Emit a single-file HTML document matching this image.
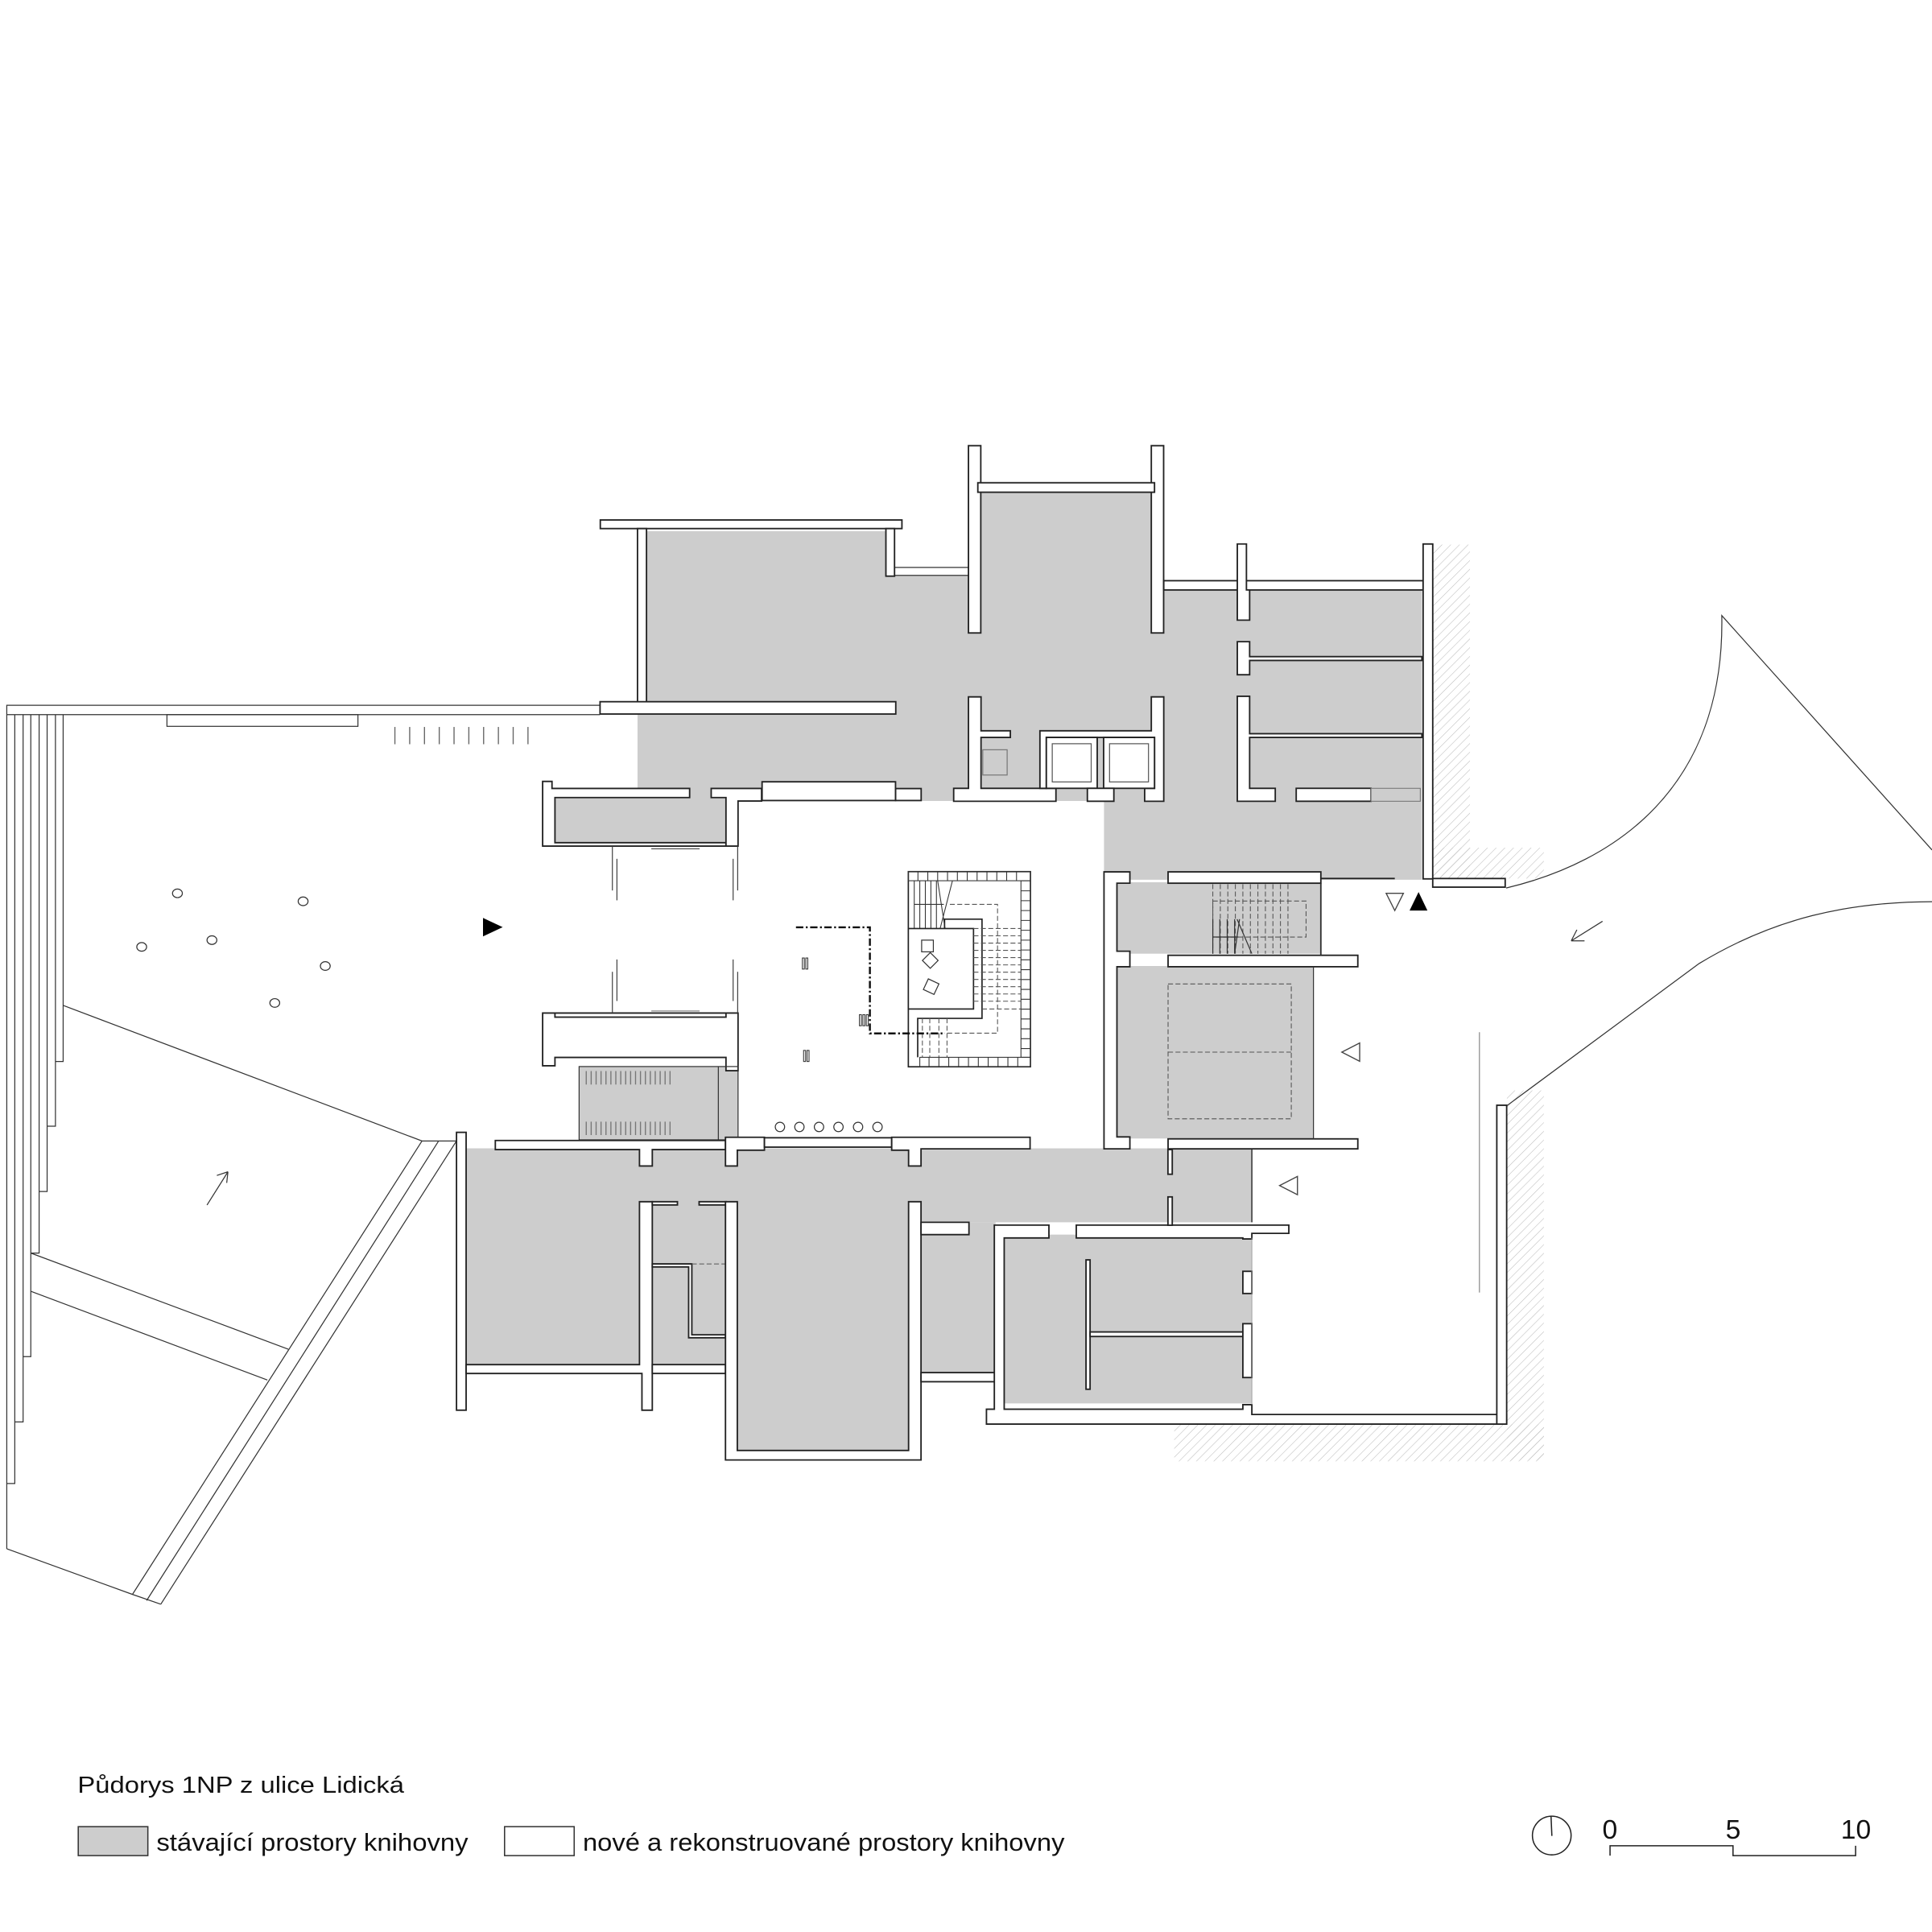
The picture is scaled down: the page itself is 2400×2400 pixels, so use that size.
<!DOCTYPE html>
<html><head><meta charset="utf-8"><style>
html,body{margin:0;padding:0;background:#fff}
svg{display:block}
.w{fill:#fff;stroke:#222;stroke-width:1.2}
.g{fill:#cdcdcd;stroke:none}
.l{fill:none;stroke:#333;stroke-width:0.8}
.d{fill:none;stroke:#555;stroke-width:0.7;stroke-dasharray:4 2}
text{font-family:"Liberation Sans",Arial,sans-serif;fill:#111}
</style></head><body>
<svg width="2400" height="2400" viewBox="0 0 1568 1568" xmlns="http://www.w3.org/2000/svg">
<defs>
<pattern id="h" width="5" height="5" patternUnits="userSpaceOnUse" patternTransform="rotate(45)">
<line x1="0" y1="0" x2="0" y2="5" stroke="#bbb" stroke-width="0.7"/></pattern>
</defs>
<rect x="1163" y="442" width="30" height="272" fill="url(#h)"/>
<rect x="1163" y="688" width="90" height="25" fill="url(#h)"/>
<rect x="1223" y="885" width="30" height="300" fill="url(#h)"/>
<rect x="953" y="1156" width="300" height="30" fill="url(#h)"/>

<line class="l" x1="5.5" y1="572.4" x2="487" y2="572.4"/>
<line class="l" x1="5.5" y1="580" x2="487" y2="580"/>
<rect class="l" x="135.5" y="580" width="155" height="9.5"/>
<g stroke="#666" stroke-width="0.9">
<line x1="320.5" y1="590" x2="320.5" y2="604"/><line x1="332.5" y1="590" x2="332.5" y2="604"/><line x1="344.5" y1="590" x2="344.5" y2="604"/><line x1="356.5" y1="590" x2="356.5" y2="604"/><line x1="368.5" y1="590" x2="368.5" y2="604"/><line x1="380.5" y1="590" x2="380.5" y2="604"/><line x1="392.5" y1="590" x2="392.5" y2="604"/><line x1="404.5" y1="590" x2="404.5" y2="604"/><line x1="416.5" y1="590" x2="416.5" y2="604"/><line x1="428.5" y1="590" x2="428.5" y2="604"/>
</g>
<path class="l" d="M5.5,572 V1257 M12,580 V1204 H5.5 M18.75,580 V1154 H12 M25,580 V1101 H18.75 M31.75,580 V1017 H25 M38.25,580 V967 H31.75 M45,580 V914 H38.25 M51.25,580 V861.5 H45"/>
<path class="l" d="M51.25,816 L342.5,926 H370.5 M25,1017 L234,1095 M25,1048 L217,1120 M5.5,1257 L107.5,1294 L130.5,1302 M342.5,926 L107.5,1294 M356,926 L119,1299 M370.5,926 L130.5,1302"/>
<path class="l" d="M168,978 L185,951 M185,951 L176,954 M185,951 L184,960"/>
<g class="l"><ellipse cx="144" cy="725" rx="4" ry="3.5"/><ellipse cx="246" cy="731.5" rx="4" ry="3.5"/><ellipse cx="115" cy="768.5" rx="4" ry="3.5"/><ellipse cx="172" cy="763" rx="4" ry="3.5"/><ellipse cx="264" cy="784" rx="4" ry="3.5"/><ellipse cx="223" cy="814" rx="4" ry="3.5"/></g>

<path class="l" d="M1222.4,720.7 C1310,700 1400,640 1397.4,499.6 L1568,689.8"/>
<path class="l" d="M1222.4,897.8 L1379,782 C1440,745 1500,732 1568,731.8"/>
<path class="l" d="M1300.6,747.7 L1275.2,763.6 M1275.2,763.6 L1286,763.6 M1275.2,763.6 L1279.8,754.6"/>
<line x1="1200.7" y1="837.7" x2="1200.7" y2="1049" stroke="#888" stroke-width="0.8"/>

<rect class="g" x="525" y="431" width="194" height="139"/>
<rect class="g" x="517.4" y="579" width="270" height="71"/>
<rect class="g" x="719" y="467" width="226" height="183"/>
<rect class="g" x="795" y="399" width="140" height="251"/>
<rect class="g" x="934" y="478" width="220" height="172"/>
<rect class="g" x="896" y="649" width="258" height="65"/>
<rect class="g" x="450.4" y="647" width="139" height="37"/>
<rect class="g" x="450.4" y="825.5" width="139" height="33"/>
<rect class="g" x="470" y="865.6" width="129" height="59.5"/>
<rect class="g" x="906" y="716" width="166" height="58"/>
<rect class="g" x="906" y="784" width="160" height="140"/>
<rect class="g" x="378" y="932" width="638" height="60"/>
<rect class="g" x="378" y="932" width="143" height="176"/>
<rect class="g" x="529" y="975" width="60" height="133"/>
<rect class="g" x="598" y="933" width="140" height="245"/>
<rect class="g" x="747" y="992" width="61" height="122"/>
<rect class="g" x="815" y="1002" width="201" height="137"/>

<path class="l" d="M725.7,460.5 H787 M725.7,467 H787"/>

<rect class="w" x="487.2" y="422" width="244.8" height="7"/>
<rect class="w" x="719" y="429" width="7" height="38.6"/>
<rect class="w" x="517.4" y="429" width="7.3" height="141"/>
<rect class="w" x="487" y="569.5" width="240" height="10"/>
<rect class="w" x="786" y="361.7" width="10" height="152"/>
<rect class="w" x="934.4" y="361.7" width="10" height="152"/>
<rect class="w" x="793.6" y="391.8" width="143.4" height="7.7"/>
<path class="w" d="M786,565.6 H796.2 V593.1 H820 V598.5 H796.2 V639.8 H857 V650.3 H774 V639.8 H786 Z"/>
<path class="w" d="M844,593.1 H934.4 V565.6 H944.5 V650.3 H929 V639.8 H937 V598.5 H849.2 V639.8 H844 Z"/>
<rect class="w" x="849.2" y="598.5" width="41.3" height="41.3"/>
<rect class="w" x="895.7" y="598.5" width="41.3" height="41.3"/>
<rect x="854" y="603.6" width="31.6" height="31" fill="none" stroke="#555" stroke-width="0.8"/>
<rect x="900.5" y="603.6" width="31.6" height="31" fill="none" stroke="#555" stroke-width="0.8"/>
<rect x="797.6" y="608.5" width="19.8" height="20.5" fill="none" stroke="#777" stroke-width="0.8"/>
<rect class="w" x="882.5" y="639.8" width="21.5" height="10.5"/>
<rect class="w" x="726.8" y="640" width="20.8" height="9.7"/>
<rect class="w" x="618.5" y="634.5" width="108.3" height="15.2"/>
<rect class="w" x="944.5" y="471.3" width="210.5" height="7.5"/>
<path class="w" d="M1004.2,441.5 H1011.6 V478.8 H1014.2 V503.3 H1004.2 Z"/>
<rect class="w" x="1155" y="441.5" width="7.8" height="271.8"/>
<rect class="w" x="1162.8" y="713" width="58.8" height="7"/>
<path class="w" d="M1004.2,520.8 H1014.2 V532.9 H1154 V536 H1014.2 V547.6 H1004.2 Z"/>
<path class="w" d="M1004.2,565.1 H1014.2 V595.5 H1154 V598.5 H1014.2 V639.8 H1035 V650.3 H1004.2 Z"/>
<rect class="w" x="1052" y="639.8" width="60.7" height="10.5"/>
<rect x="1112.7" y="639.8" width="40" height="10.5" fill="#cdcdcd" stroke="#777" stroke-width="0.7"/>
<path class="w" d="M440.4,634.2 H448 V639.9 H559.7 V647.3 H450.4 V683.9 H589.2 V686.7 H440.4 Z"/>
<path class="w" d="M577.2,639.9 H618.1 V650.1 H599 V686.7 H589.2 V647.3 H577.2 Z"/>
<path class="w" d="M440.4,822.2 H599 V869 H589.2 V858.2 H450.4 V865 H440.4 Z"/>
<rect class="w" x="450.4" y="822.2" width="138.8" height="3.3"/>
<g stroke="#444" stroke-width="0.8">
<line x1="497" y1="687" x2="497" y2="722.7"/><line x1="500.7" y1="697" x2="500.7" y2="730.7"/>
<line x1="595" y1="697" x2="595" y2="730.7"/><line x1="598.7" y1="687" x2="598.7" y2="722.7"/>
<line x1="497" y1="788.7" x2="497" y2="822"/><line x1="500.7" y1="778.7" x2="500.7" y2="812.4"/>
<line x1="595" y1="778.7" x2="595" y2="812.4"/><line x1="598.7" y1="788.7" x2="598.7" y2="822"/>
<line x1="528.6" y1="688.9" x2="567.8" y2="688.9"/>
</g>
<line x1="528.6" y1="820.5" x2="567.8" y2="820.5" stroke="#999" stroke-width="1"/>
<line x1="583" y1="865.6" x2="583" y2="925" stroke="#333" stroke-width="0.8"/>
<rect x="470" y="865.6" width="129" height="59.5" fill="none" stroke="#333" stroke-width="0.8"/>
<g stroke="#777" stroke-width="0.9">
<path d="M475.8,869.3V880.2M479.8,869.3V880.2M483.8,869.3V880.2M487.8,869.3V880.2M491.8,869.3V880.2M495.8,869.3V880.2M499.8,869.3V880.2M503.8,869.3V880.2M507.8,869.3V880.2M511.8,869.3V880.2M515.8,869.3V880.2M519.8,869.3V880.2M523.8,869.3V880.2M527.8,869.3V880.2M531.8,869.3V880.2M535.8,869.3V880.2M539.8,869.3V880.2M543.8,869.3V880.2"/>
<path d="M475.8,910.3V921.2M479.8,910.3V921.2M483.8,910.3V921.2M487.8,910.3V921.2M491.8,910.3V921.2M495.8,910.3V921.2M499.8,910.3V921.2M503.8,910.3V921.2M507.8,910.3V921.2M511.8,910.3V921.2M515.8,910.3V921.2M519.8,910.3V921.2M523.8,910.3V921.2M527.8,910.3V921.2M531.8,910.3V921.2M535.8,910.3V921.2M539.8,910.3V921.2M543.8,910.3V921.2"/>
</g>

<path class="w" d="M896,707.6 H917 V716.8 H906.5 V772 H917 V784.6 H906.5 V922.7 H917 V932.4 H896 Z"/>
<rect class="w" x="948" y="707.6" width="124" height="9.2"/>
<line x1="1072" y1="713" x2="1132" y2="713" stroke="#222" stroke-width="1.2"/>
<rect class="w" x="948" y="775.3" width="154" height="9.3"/>
<rect class="w" x="948" y="924.3" width="154" height="8.1"/>
<line x1="1066" y1="784.6" x2="1066" y2="924.3" stroke="#333" stroke-width="0.8"/>
<line x1="1072" y1="716.8" x2="1072" y2="775" stroke="#333" stroke-width="1.2"/>
<rect class="d" x="948" y="798.6" width="100" height="109.4"/>
<line class="d" x1="948" y1="853.9" x2="1048" y2="853.9"/>
<rect class="d" x="984.3" y="731.3" width="75.7" height="29.2"/>
<path class="d" d="M984.3,717.6V774M990.4,717.6V774M996.5,717.6V774M1002.6,717.6V774M1008.7,717.6V774M1014.8,717.6V774M1020.9,717.6V774M1027,717.6V774M1033.1,717.6V774M1039.2,717.6V774M1045.3,717.6V774"/>
<path class="l" d="M984.3,746 V774 M990,746V774 M996,746V774 M1002,746V774 M984.3,760.5 H1005 M1004,746 L1016,774 M1006,746 L1002,774"/>

<rect x="737.2" y="707.4" width="99.1" height="158.4" fill="#fff" stroke="#222" stroke-width="1.1"/>
<g fill="none" stroke="#333" stroke-width="0.7">
<rect x="737.2" y="707.4" width="99.1" height="7.4"/>
<rect x="828.6" y="714.8" width="7.7" height="143.3"/>
<rect x="746.5" y="858.1" width="89.8" height="7.7"/>
<path d="M745,707.4V714.8M753,707.4V714.8M761,707.4V714.8M769,707.4V714.8M777,707.4V714.8M785,707.4V714.8M793,707.4V714.8M801,707.4V714.8M809,707.4V714.8M817,707.4V714.8M825,707.4V714.8"/>
<path d="M828.6,723H836.3M828.6,731H836.3M828.6,739H836.3M828.6,747H836.3M828.6,755H836.3M828.6,763H836.3M828.6,771H836.3M828.6,779H836.3M828.6,787H836.3M828.6,795H836.3M828.6,803H836.3M828.6,811H836.3M828.6,819H836.3M828.6,827H836.3M828.6,835H836.3M828.6,843H836.3M828.6,851H836.3"/>
<path d="M754,858.1V865.8M762,858.1V865.8M770,858.1V865.8M778,858.1V865.8M786,858.1V865.8M794,858.1V865.8M802,858.1V865.8M810,858.1V865.8M818,858.1V865.8M826,858.1V865.8"/>
<path d="M742,714.8V753.6M746.5,714.8V753.6M751,714.8V753.6M755.5,714.8V753.6M760,714.8V753.6M742,734H766 M761,714.8 L767,753.6 M773,714.8 L763,753.6"/>
</g>
<rect x="737.2" y="753.6" width="52.9" height="65.3" fill="#fff" stroke="#222" stroke-width="1.1"/>
<path d="M766.6,753.6 V746 H797 V826.5 H744.8 V858.1" fill="none" stroke="#222" stroke-width="1.1"/>
<path class="d" d="M770.9,734 H809.6 V838.5 H766.6"/>
<path class="d" d="M790.1,753.6H828.6M790.1,759.5H828.6M790.1,765.4H828.6M790.1,771.3H828.6M790.1,777.2H828.6M790.1,783.1H828.6M790.1,789H828.6M790.1,794.9H828.6M790.1,800.8H828.6M790.1,806.7H828.6M790.1,812.6H828.6M797,818.9H828.6"/>
<path class="d" d="M748.6,826.5V858M754.6,826.5V858M762,826.5V858M768.6,826.5V858"/>
<rect x="748" y="763" width="9.5" height="9.5" fill="none" stroke="#333" stroke-width="0.8"/>
<rect x="750.5" y="775" width="9" height="9" fill="none" stroke="#333" stroke-width="0.8" transform="rotate(45 755 779.5)"/>
<rect x="751" y="796" width="9.5" height="9.5" fill="none" stroke="#333" stroke-width="0.8" transform="rotate(25 755.7 800.7)"/>
<path d="M646,752.6 H706 V838.7 H766" fill="none" stroke="#111" stroke-width="1.6" stroke-dasharray="6 2 1.5 2"/>
<g fill="none" stroke="#333" stroke-width="0.7">
<rect x="651.2" y="777.5" width="1.6" height="9"/><rect x="654" y="777.5" width="1.6" height="9"/>
<rect x="652.2" y="852.5" width="1.6" height="9"/><rect x="655" y="852.5" width="1.6" height="9"/>
<rect x="697.5" y="823.5" width="1.6" height="9"/><rect x="700.3" y="823.5" width="1.6" height="9"/><rect x="703.1" y="823.5" width="1.6" height="9"/>
</g>
<g class="l"><circle cx="633" cy="914.6" r="3.8"/><circle cx="648.8" cy="914.6" r="3.8"/><circle cx="664.7" cy="914.6" r="3.8"/><circle cx="680.5" cy="914.6" r="3.8"/><circle cx="696.4" cy="914.6" r="3.8"/><circle cx="712.2" cy="914.6" r="3.8"/></g>

<rect class="w" x="370.5" y="919" width="7.8" height="225.5"/>
<path class="w" d="M402,925.6 H588.8 V933 H529.4 V946.3 H519 V933 H402 Z"/>
<path class="w" d="M588.8,923 H620.4 V933.5 H598.4 V946.3 H588.8 Z"/>
<rect class="w" x="620.4" y="923.4" width="103.3" height="7.6"/>
<path class="w" d="M723.7,923 H836 V932.4 H747.5 V946.3 H737.4 V933.5 H723.7 Z"/>
<path class="w" d="M378.3,1107.5 H519 V975.3 H529.4 V1107.5 H529.4 V1144.5 H521 V1114.7 H378.3 Z"/>
<path class="w" d="M529.4,975.3 H549.8 V977.9 H529.4 Z M567.4,975.3 H589.4 V977.9 H567.4 Z"/>
<path class="w" d="M529.4,1025.8 H561.5 V1083.3 H588.8 V1085.7 H558.9 V1028.2 H529.4 Z"/>
<line class="d" x1="561.5" y1="1025.8" x2="588.8" y2="1025.8"/>
<rect class="w" x="529.4" y="1107.5" width="59.4" height="7.2"/>
<path class="w" d="M588.8,975.3 H598.4 V1177.2 H737.4 V975.3 H747.5 V1184.9 H588.8 Z"/>
<path class="w" d="M747.5,992 H786.4 V1002 H747.5 Z"/>
<rect class="w" x="747.5" y="1114" width="60" height="7.4"/>
<path class="w" d="M807,994.3 H851.3 V1004.7 H815 V1118 L815,1143.7 H1008.7 V1140 H1016 V1148 H1222.8 V1155.8 H800.6 V1143.7 H807 Z"/>
<path class="w" d="M873.5,994.3 H1046 V1001 H1016 V1005.5 H1008.7 V1004.7 H873.5 Z"/>
<rect class="w" x="1214.8" y="897" width="8" height="258.8"/>
<rect class="w" x="947.9" y="933" width="3.5" height="20"/>
<rect class="w" x="947.9" y="971.4" width="3.5" height="23"/>
<rect class="w" x="881.4" y="1022.5" width="3.3" height="105"/>
<rect class="w" x="884.7" y="1081" width="124" height="3.7"/>
<rect class="w" x="1008.7" y="1031.8" width="7.3" height="18"/>
<rect class="w" x="1008.7" y="1074.3" width="7.3" height="43.7"/>
<line x1="1016" y1="932.4" x2="1016" y2="992" stroke="#222" stroke-width="0.9"/>
<line x1="1016" y1="1004.7" x2="1016" y2="1140" stroke="#999" stroke-width="0.6"/>

<polygon points="392,745 408,752.5 392,760" fill="#000"/>
<polygon points="1125,725 1139,725 1132,739" fill="none" stroke="#444" stroke-width="0.9"/>
<polygon points="1151.3,724 1158.5,739 1144,739" fill="#000"/>
<polygon points="1103.5,846.5 1103.5,861.3 1089,853.9" fill="none" stroke="#444" stroke-width="0.9"/>
<polygon points="1053,954.8 1053,969.6 1038.5,962.2" fill="none" stroke="#444" stroke-width="0.9"/>

<text x="63" y="1455" font-size="19" textLength="265" lengthAdjust="spacingAndGlyphs">Půdorys 1NP z ulice Lidická</text>
<rect x="63.5" y="1482.5" width="56.5" height="23.5" fill="#cdcdcd" stroke="#333" stroke-width="1"/>
<text x="127" y="1502" font-size="20" textLength="253" lengthAdjust="spacingAndGlyphs">stávající prostory knihovny</text>
<rect x="409.5" y="1482.5" width="56.5" height="23.5" fill="#fff" stroke="#333" stroke-width="1"/>
<text x="473" y="1502" font-size="20" textLength="391" lengthAdjust="spacingAndGlyphs">nové a rekonstruované prostory knihovny</text>
<circle cx="1259.4" cy="1489.7" r="15.7" fill="none" stroke="#222" stroke-width="1"/>
<line x1="1258.8" y1="1474" x2="1259.5" y2="1490" stroke="#222" stroke-width="1"/>
<text x="1300.5" y="1492.3" font-size="22">0</text>
<text x="1400.5" y="1492.3" font-size="22">5</text>
<text x="1494" y="1492.3" font-size="22">10</text>
<path d="M1306.7,1506 V1498 H1406.5 V1506 H1506 V1498" fill="none" stroke="#222" stroke-width="1"/>
</svg>
</body></html>
